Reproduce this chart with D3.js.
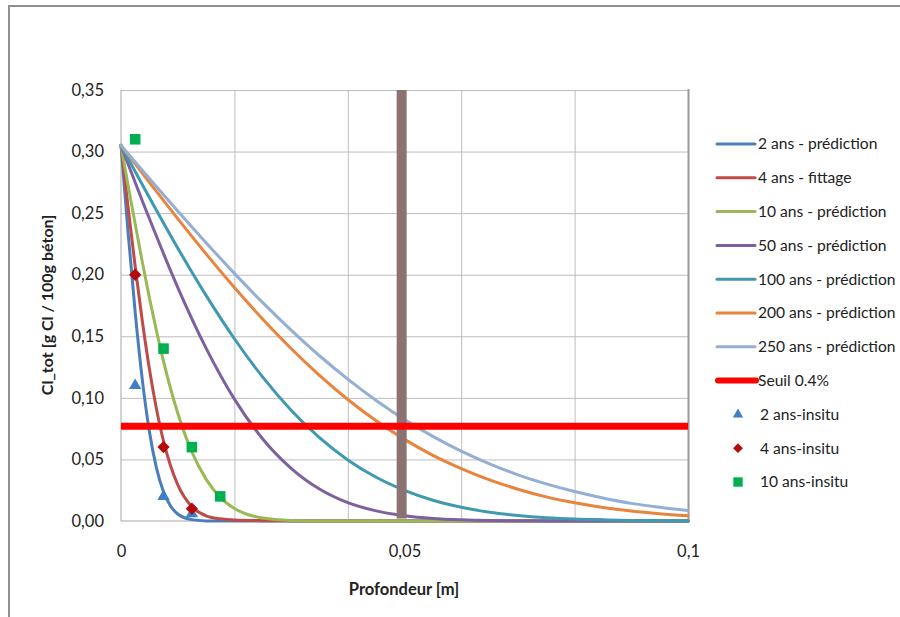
<!DOCTYPE html>
<html>
<head>
<meta charset="utf-8">
<script src="https://cdn.jsdelivr.net/npm/d3@7/dist/d3.min.js"></script>
<style>
html,body{margin:0;padding:0;background:#fff;}
svg{display:block;}
text{font-family:Lato,"Open Sans",sans-serif;fill:#222;}
</style>
</head>
<body>
<script>
// ---- data ----
const depthFine = [0,0.00125,0.0025,0.00375,0.005,0.00625,0.0075,0.00875,0.01,0.0125,0.015,0.0175,0.02,0.025,0.03,0.035,0.04,0.045,0.05,0.055,0.06,0.065,0.07,0.075,0.08,0.085,0.09,0.095,0.1];
const depthCoarse = [0,0.005,0.01,0.015,0.02,0.025,0.03,0.035,0.04,0.045,0.05,0.055,0.06,0.065,0.07,0.075,0.08,0.085,0.09,0.095,0.1];

const pred2ans  = [0.305,0.2344,0.1696,0.1150,0.0729,0.0432,0.0237,0.0121,0.0057,0.0011,0.0001,0,0,0,0,0,0,0,0,0,0,0,0,0,0,0,0,0,0];
const fit4ans   = [0.305,0.2548,0.2067,0.1626,0.1238,0.0912,0.0648,0.0447,0.0296,0.0116,0.0042,0.0018,0.0008,0.0003,0.0001,0,0,0,0,0,0,0,0,0,0,0,0,0,0];
const pred10ans = [0.305,0.2727,0.2411,0.2105,0.1815,0.1545,0.1297,0.1074,0.0877,0.0561,0.0340,0.0192,0.0102,0.0024,0.0005,0.0001,0,0,0,0,0,0,0,0,0,0,0,0,0];

const pred50ans  = [0.305,0.2456,0.1898,0.1404,0.0990,0.0666,0.0428,0.0260,0.0149,0.0082,0.0043,0.0021,0.0010,0.0004,0.0002,0.0001,0,0,0,0,0];
const pred100ans = [0.305,0.2627,0.2217,0.1832,0.1480,0.1168,0.0900,0.0677,0.0496,0.0355,0.0249,0.0169,0.0111,0.0071,0.0045,0.0027,0.0016,0.0010,0.0005,0.0003,0.0001];
const pred200ans = [0.305,0.2750,0.2456,0.2169,0.1896,0.1639,0.1401,0.1183,0.0987,0.0814,0.0663,0.0533,0.0426,0.0334,0.0258,0.0196,0.0148,0.0110,0.0081,0.0059,0.0042];
const pred250ans = [0.305,0.2782,0.2518,0.2260,0.2011,0.1773,0.1550,0.1342,0.1152,0.0979,0.0824,0.0687,0.0567,0.0464,0.0375,0.0301,0.0239,0.0187,0.0143,0.0111,0.0085];

const seuilDepth = [0,0.1];
const seuilValue = [0.077,0.077];

const limitDepth = 0.0495;
const limitRange = [0.002,0.35];

const insitu2Depth = [0.0025,0.0075,0.0125];
const insitu2Value = [0.11,0.02,0.006];
const insitu4Depth = [0.0025,0.0075,0.0125];
const insitu4Value = [0.20,0.06,0.01];
const insitu10Depth = [0.0025,0.0075,0.0125,0.0175];
const insitu10Value = [0.31,0.14,0.06,0.02];

const yTicks = [0,0.05,0.10,0.15,0.20,0.25,0.30,0.35];
const xLabelTicks = [0,0.05,0.1];
const xGridTicks = [0.02,0.04,0.06,0.08];

const lineSeries = [
  {name:"2 ans - prédiction",   xs:depthFine,   ys:pred2ans,   color:"#4A7EBB"},
  {name:"4 ans - fittage",      xs:depthFine,   ys:fit4ans,    color:"#BE4B48"},
  {name:"10 ans - prédiction",  xs:depthFine,   ys:pred10ans,  color:"#98B954"},
  {name:"50 ans - prédiction",  xs:depthCoarse, ys:pred50ans,  color:"#7D60A0"},
  {name:"100 ans - prédiction", xs:depthCoarse, ys:pred100ans, color:"#3F9AB1"},
  {name:"200 ans - prédiction", xs:depthCoarse, ys:pred200ans, color:"#E8843C"},
  {name:"250 ans - prédiction", xs:depthCoarse, ys:pred250ans, color:"#94AED4"}
];
const seuil = {name:"Seuil 0.4%", xs:seuilDepth, ys:seuilValue, color:"#FF0000"};
const scatterSeries = [
  {name:"2 ans-insitu",  xs:insitu2Depth,  ys:insitu2Value,  color:"#3F7FC6", shape:"triangle"},
  {name:"4 ans-insitu",  xs:insitu4Depth,  ys:insitu4Value,  color:"#B50A0A", shape:"diamond"},
  {name:"10 ans-insitu", xs:insitu10Depth, ys:insitu10Value, color:"#00B050", shape:"square"}
];

// ---- drawing ----
const W = 900, H = 617;
const svg = d3.select("body").append("svg").attr("width",W).attr("height",H);

svg.append("rect").attr("x",9).attr("y",6).attr("width",1000).attr("height",700)
  .attr("fill","#fff").attr("stroke","#8f8f8f").attr("stroke-width",2);

const x = d3.scaleLinear().domain([0,0.1]).range([121,688]);
const y = d3.scaleLinear().domain([0,0.35]).range([521,90]);

const loc = d3.formatLocale({decimal:",",thousands:" ",grouping:[3],currency:["","€"]});
const fy = loc.format(".2f");
const fx = loc.format("~g");

// gridlines
svg.append("g").attr("transform","translate(121,0)")
  .call(d3.axisLeft(y).tickValues(yTicks.filter(d=>d>0)).tickSize(-(688-121)).tickFormat(""))
  .call(g=>g.select(".domain").remove())
  .call(g=>g.selectAll("line").attr("stroke","#bdbdbd").attr("stroke-width",1));
svg.append("g").attr("transform","translate(0,521)")
  .call(d3.axisBottom(x).tickValues(xGridTicks).tickSize(-(521-90)).tickFormat(""))
  .call(g=>g.select(".domain").remove())
  .call(g=>g.selectAll("line").attr("stroke","#bdbdbd").attr("stroke-width",1));

// axis lines
svg.append("line").attr("x1",121).attr("x2",121).attr("y1",90).attr("y2",521).attr("stroke","#a6a6a6");
svg.append("line").attr("x1",121).attr("x2",688).attr("y1",521).attr("y2",521).attr("stroke","#a6a6a6");
svg.append("line").attr("x1",688.5).attr("x2",688.5).attr("y1",89).attr("y2",522).attr("stroke","#9a9a9a").attr("stroke-width",2);

// tick labels
svg.append("g").attr("transform","translate(121,0)")
  .call(d3.axisLeft(y).tickValues(yTicks).tickSize(0).tickPadding(17).tickFormat(fy))
  .call(g=>g.select(".domain").remove())
  .call(g=>g.selectAll("text").attr("font-size",16.5).attr("font-family","Lato,sans-serif").attr("fill","#222"));
svg.append("g").attr("transform","translate(0,521)")
  .call(d3.axisBottom(x).tickValues(xLabelTicks).tickSize(0).tickPadding(24).tickFormat(fx))
  .call(g=>g.select(".domain").remove())
  .call(g=>g.selectAll("text").attr("font-size",16.5).attr("font-family","Lato,sans-serif").attr("fill","#222"));

// axis titles
svg.append("text").attr("x",404).attr("y",595).attr("text-anchor","middle")
  .attr("font-weight","bold").attr("font-size",16.5).text("Profondeur [m]");
svg.append("text").attr("transform","translate(53,305) rotate(-90)").attr("text-anchor","middle")
  .attr("font-weight","bold").attr("font-size",16).text("Cl_tot [g Cl / 100g béton]");

// curves
const line = d3.line().x(d=>x(d[0])).y(d=>y(d[1])).curve(d3.curveMonotoneX);
const plot = svg.append("g");
lineSeries.forEach(s=>{
  plot.append("path").datum(s.xs.map((v,i)=>[v,s.ys[i]]))
    .attr("d",line).attr("fill","none").attr("stroke",s.color)
    .attr("stroke-width",3).attr("stroke-linejoin","round").attr("stroke-linecap","round");
});

// limit bar
plot.append("line").attr("x1",x(limitDepth)).attr("x2",x(limitDepth))
  .attr("y1",y(limitRange[0])).attr("y2",y(limitRange[1]))
  .attr("stroke","#8C7373").attr("stroke-width",10);

// seuil
plot.append("path").datum(seuil.xs.map((v,i)=>[v,seuil.ys[i]]))
  .attr("d",d3.line().x(d=>x(d[0])).y(d=>y(d[1])))
  .attr("fill","none").attr("stroke",seuil.color).attr("stroke-width",7);

// markers
function sym(shape, big){
  if(shape==="triangle") return d3.symbol(d3.symbolTriangle, big?66:46)();
  if(shape==="diamond") return d3.symbol(d3.symbolSquare, big?76:48)();
  return d3.symbol(d3.symbolSquare, big?112:88)();
}
scatterSeries.forEach(s=>{
  s.xs.forEach((v,i)=>{
    plot.append("path").attr("d",sym(s.shape,true))
      .attr("transform",`translate(${x(v)},${y(s.ys[i])})`+(s.shape==="diamond"?" rotate(45)":""))
      .attr("fill",s.color);
  });
});

// legend
const legend = svg.append("g");
const legendItems = [...lineSeries.map(s=>({...s,kind:"line"})), {...seuil,kind:"seuil"}, ...scatterSeries.map(s=>({...s,kind:"marker"}))];
legendItems.forEach((s,i)=>{
  const ly = 144 + i*33.8;
  if(s.kind==="line"){
    legend.append("line").attr("x1",717).attr("x2",755).attr("y1",ly).attr("y2",ly)
      .attr("stroke",s.color).attr("stroke-width",3).attr("stroke-linecap","round");
  } else if(s.kind==="seuil"){
    legend.append("line").attr("x1",718).attr("x2",756).attr("y1",ly).attr("y2",ly)
      .attr("stroke",s.color).attr("stroke-width",6).attr("stroke-linecap","round");
  } else {
    legend.append("path").attr("d",sym(s.shape,false))
      .attr("transform",`translate(738,${ly})`+(s.shape==="diamond"?" rotate(45)":""))
      .attr("fill",s.color);
  }
  legend.append("text").attr("x",s.kind==="marker"?760:758).attr("y",ly).attr("dy","0.35em")
    .attr("font-size",15.6).text(s.name);
});
</script>
</body>
</html>
